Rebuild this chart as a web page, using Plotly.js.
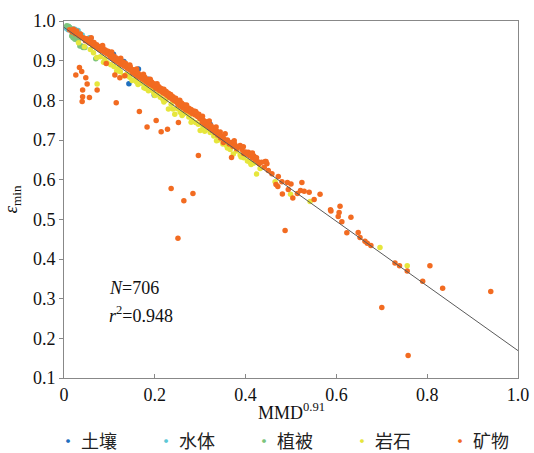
<!DOCTYPE html>
<html>
<head>
<meta charset="utf-8">
<script src="https://cdn.plot.ly/plotly-3.0.1.min.js"></script>
<style>
  html, body { margin: 0; padding: 0; background: #fff; }
  #chart { width: 534px; height: 453px; }
</style>
</head>
<body>
<div id="chart"></div>
<script>
// Material classes shown in the key below the axes
const categories = ['土壤', '水体', '植被', '岩石', '矿物'];
const colors = ['#1f6fbf', '#5cc8d6', '#7cc47c', '#e6e63c', '#f26b21'];

// 土壤 (soil)
const soilX = [0.059, 0.109, 0.132, 0.143, 0.164, 0.186, 0.197, 0.199, 0.233, 0.252, 0.322, 0.421];
const soilY = [0.956, 0.916, 0.898, 0.842, 0.879, 0.853, 0.828, 0.813, 0.807, 0.782, 0.740, 0.656];

// 水体 (water)
const waterX = [0.005, 0.009, 0.012, 0.016, 0.020, 0.024, 0.028, 0.031, 0.035, 0.040, 0.056, 0.072];
const waterY = [0.982, 0.978, 0.984, 0.975, 0.980, 0.979, 0.971, 0.976, 0.968, 0.965, 0.958, 0.933];

// 植被 (vegetation)
const vegX = [0.006, 0.010, 0.013, 0.017, 0.020, 0.024, 0.028, 0.031, 0.035, 0.039, 0.042, 0.043, 0.046, 0.070];
const vegY = [0.988, 0.987, 0.983, 0.962, 0.958, 0.954, 0.957, 0.950, 0.937, 0.937, 0.933, 0.935, 0.933, 0.905];

// 岩石 (rock)
const rockX = [0.032, 0.045, 0.058, 0.065, 0.072, 0.073, 0.080, 0.087, 0.095, 0.103, 0.110, 0.116, 0.124,
  0.131, 0.138, 0.145, 0.150, 0.157, 0.163, 0.170, 0.176, 0.182, 0.186, 0.192, 0.198, 0.205, 0.212,
  0.218, 0.224, 0.230, 0.236, 0.244, 0.250, 0.256, 0.262, 0.268, 0.275, 0.282, 0.290, 0.296, 0.300,
  0.306, 0.314, 0.322, 0.330, 0.336, 0.342, 0.350, 0.358, 0.366, 0.373, 0.380, 0.388, 0.396, 0.404,
  0.412, 0.418, 0.424, 0.432, 0.465, 0.499, 0.542, 0.696, 0.756,
  0.090, 0.120, 0.140, 0.160, 0.180, 0.200, 0.220, 0.240, 0.260, 0.280, 0.310, 0.340, 0.360, 0.390, 0.410];
const rockY = [0.945, 0.935, 0.928, 0.920, 0.908, 0.841, 0.910, 0.896, 0.895, 0.890, 0.885, 0.874, 0.872,
  0.862, 0.866, 0.858, 0.850, 0.852, 0.840, 0.843, 0.832, 0.835, 0.824, 0.826, 0.818, 0.815, 0.808,
  0.802, 0.800, 0.778, 0.790, 0.765, 0.779, 0.770, 0.765, 0.768, 0.758, 0.750, 0.744, 0.740, 0.724,
  0.733, 0.727, 0.719, 0.710, 0.698, 0.705, 0.690, 0.686, 0.676, 0.665, 0.672, 0.662, 0.655, 0.647,
  0.638, 0.642, 0.614, 0.628, 0.595, 0.563, 0.545, 0.429, 0.383,
  0.905, 0.880, 0.862, 0.846, 0.830, 0.812, 0.796, 0.778, 0.762, 0.745, 0.722, 0.700, 0.680, 0.657, 0.643];

// 矿物 (minerals)
const mineralX = [
  0.012, 0.018, 0.021, 0.025, 0.028, 0.033, 0.036, 0.040, 0.044, 0.047, 0.050,
  0.052, 0.055, 0.058, 0.061, 0.064, 0.066, 0.069, 0.072, 0.075, 0.078, 0.080, 0.083, 0.086, 0.089,
  0.091, 0.094, 0.097, 0.099,
  0.102, 0.104, 0.107, 0.110, 0.112, 0.115, 0.118, 0.120, 0.123, 0.125, 0.128, 0.131, 0.133, 0.136,
  0.139, 0.141, 0.144, 0.146, 0.149,
  0.151, 0.153, 0.156, 0.158, 0.161, 0.163, 0.166, 0.168, 0.171, 0.173, 0.176, 0.178, 0.181, 0.183,
  0.186, 0.188, 0.191, 0.193, 0.196, 0.198,
  0.201, 0.204, 0.206, 0.209, 0.211, 0.214, 0.217, 0.219, 0.222, 0.225, 0.227, 0.230, 0.232, 0.235,
  0.238, 0.240, 0.243, 0.246, 0.248,
  0.251, 0.254, 0.256, 0.259, 0.262, 0.264, 0.267, 0.270, 0.272, 0.275, 0.278, 0.280, 0.283, 0.286,
  0.289, 0.291, 0.294, 0.297, 0.299,
  0.302, 0.305, 0.307, 0.310, 0.313, 0.316, 0.318, 0.321, 0.324, 0.327, 0.330, 0.333, 0.336, 0.339,
  0.342, 0.344, 0.345, 0.348, 0.351, 0.369,
  0.352, 0.356, 0.360, 0.364, 0.368, 0.372, 0.376, 0.380, 0.384, 0.388, 0.392, 0.396, 0.400, 0.404,
  0.406, 0.409, 0.412, 0.415, 0.418, 0.421, 0.424, 0.427, 0.430, 0.443, 0.447,
  0.060, 0.085, 0.105, 0.125, 0.145, 0.160, 0.175, 0.190, 0.205, 0.220, 0.235, 0.255, 0.270, 0.290,
  0.305, 0.320, 0.335, 0.355, 0.375, 0.395, 0.415,
  0.435, 0.445, 0.441, 0.450, 0.458, 0.472, 0.467, 0.471, 0.480, 0.492, 0.500, 0.524, 0.494, 0.481,
  0.504, 0.514, 0.521, 0.529, 0.540, 0.564, 0.551, 0.587, 0.608, 0.588, 0.606, 0.604, 0.612, 0.632,
  0.623, 0.648, 0.652, 0.663, 0.668, 0.676, 0.729, 0.739, 0.756, 0.790, 0.806, 0.834, 0.940,
  0.026, 0.034, 0.039, 0.048, 0.051, 0.041, 0.041, 0.040, 0.056, 0.073, 0.115, 0.166, 0.183, 0.203,
  0.214, 0.228, 0.252, 0.093, 0.112, 0.123, 0.134, 0.296, 0.236, 0.264, 0.284, 0.251, 0.487, 0.700,
  0.758];
const mineralY = [
  0.978, 0.972, 0.979, 0.968, 0.975, 0.963, 0.967, 0.958, 0.957, 0.950, 0.955,
  0.952, 0.945, 0.950, 0.942, 0.938, 0.946, 0.935, 0.940, 0.932, 0.928, 0.936, 0.925, 0.931, 0.921,
  0.927, 0.918, 0.924, 0.915,
  0.910, 0.918, 0.905, 0.912, 0.900, 0.907, 0.897, 0.903, 0.893, 0.900, 0.890, 0.896, 0.886, 0.893,
  0.881, 0.887, 0.878, 0.884, 0.874,
  0.870, 0.877, 0.866, 0.873, 0.862, 0.869, 0.858, 0.864, 0.855, 0.861, 0.851, 0.858, 0.847, 0.853,
  0.843, 0.849, 0.839, 0.846, 0.836, 0.842,
  0.832, 0.838, 0.828, 0.834, 0.824, 0.830, 0.820, 0.826, 0.816, 0.822, 0.812, 0.818, 0.808, 0.813,
  0.803, 0.809, 0.799, 0.805, 0.795,
  0.790, 0.797, 0.786, 0.793, 0.781, 0.789, 0.777, 0.784, 0.774, 0.780, 0.770, 0.777, 0.766, 0.773,
  0.763, 0.769, 0.759, 0.765, 0.754,
  0.752, 0.745, 0.750, 0.740, 0.746, 0.735, 0.741, 0.730, 0.736, 0.724, 0.730, 0.718, 0.723, 0.712,
  0.717, 0.720, 0.705, 0.710, 0.694, 0.656,
  0.704, 0.698, 0.700, 0.690, 0.694, 0.684, 0.689, 0.678, 0.683, 0.686, 0.676, 0.666, 0.670, 0.664,
  0.669, 0.660, 0.666, 0.655, 0.660, 0.650, 0.655, 0.645, 0.640, 0.646, 0.640,
  0.958, 0.938, 0.922, 0.906, 0.889, 0.879, 0.866, 0.853, 0.842, 0.828, 0.815, 0.800, 0.788, 0.772,
  0.760, 0.748, 0.733, 0.716, 0.698, 0.683, 0.667,
  0.644, 0.646, 0.631, 0.623, 0.615, 0.608, 0.588, 0.583, 0.595, 0.593, 0.589, 0.593, 0.575, 0.564,
  0.554, 0.565, 0.573, 0.571, 0.568, 0.563, 0.550, 0.524, 0.533, 0.521, 0.517, 0.507, 0.494, 0.505,
  0.466, 0.467, 0.454, 0.445, 0.440, 0.434, 0.390, 0.383, 0.370, 0.344, 0.383, 0.326, 0.318,
  0.864, 0.883, 0.873, 0.857, 0.841, 0.826, 0.809, 0.797, 0.807, 0.826, 0.794, 0.772, 0.733, 0.749,
  0.721, 0.727, 0.744, 0.893, 0.864, 0.857, 0.862, 0.661, 0.578, 0.547, 0.565, 0.452, 0.472, 0.278,
  0.157];

// Fitted regression line
const fitX = [0, 1];
const fitY = [0.984, 0.169];

// Axis ticks
const xTickVals = [0, 0.2, 0.4, 0.6, 0.8, 1.0];
const xTickText = ['0', '0.2', '0.4', '0.6', '0.8', '1.0'];
const yTickVals = [0.1, 0.2, 0.3, 0.4, 0.5, 0.6, 0.7, 0.8, 0.9, 1.0];
const yTickText = ['0.1', '0.2', '0.3', '0.4', '0.5', '0.6', '0.7', '0.8', '0.9', '1.0'];

// Axis titles
const xTitle = 'MMD<sup>0.91</sup>';
const yTitle = '<i>ε</i><sub>min</sub>';

// Sample size and goodness of fit
const statLines = ['<i>N</i>=706', '<i>r</i><sup>2</sup>=0.948'];
const statY = [0.326, 0.261];

const seriesX = [soilX, waterX, vegX, rockX, mineralX];
const seriesY = [soilY, waterY, vegY, rockY, mineralY];

const serif = '"Liberation Serif", "Times New Roman", serif';
const cjk = '"Noto Sans CJK SC", sans-serif';

const traces = categories.map((name, i) => ({
  type: 'scatter',
  mode: 'markers',
  name: name,
  x: seriesX[i],
  y: seriesY[i],
  marker: { color: colors[i], size: 5.5, line: { width: 0 } },
  hoverinfo: 'x+y+name',
  showlegend: false
}));

traces.push({
  type: 'scatter',
  mode: 'lines',
  x: fitX,
  y: fitY,
  line: { color: '#5a5a5a', width: 1 },
  showlegend: false,
  hoverinfo: 'skip'
});

// Plot area in pixels; text below the axes is placed relative to it
const plotL = 64, plotW = 454, plotT = 21, plotH = 357;
const plotB = plotT + plotH;
const toPaperY = py => (plotB - py) / plotH;
const toPaperX = px => (px - plotL) / plotW;

const keyStep = 98;    // px between key entries
const keyLeft = 57;    // px of the first entry's left edge
const keyMid = 440;    // px, vertical centre of the key row
const xTitleMid = 411; // px, vertical centre of the x-axis title

const keyNotes = categories.map((name, i) => ({
  xref: 'paper',
  yref: 'paper',
  x: toPaperX(keyLeft + i * keyStep),
  y: toPaperY(keyMid),
  xanchor: 'left',
  yanchor: 'middle',
  showarrow: false,
  text: '<span style="color:' + colors[i] + '">•</span> ' + name,
  font: { family: cjk, size: 18, color: '#222' }
}));

const statNotes = statLines.map((t, i) => ({
  x: 0.095,
  y: statY[i],
  xref: 'x',
  yref: 'y',
  xanchor: 'left',
  yanchor: 'middle',
  showarrow: false,
  text: t,
  font: { family: serif, size: 18, color: '#111' }
}));

const xTitleNote = {
  xref: 'paper',
  yref: 'paper',
  x: 0.5,
  y: toPaperY(xTitleMid),
  xanchor: 'center',
  yanchor: 'middle',
  showarrow: false,
  text: xTitle,
  font: { family: serif, size: 18, color: '#111' }
};

const layout = {
  width: 534,
  height: 453,
  margin: { l: plotL, r: 534 - plotL - plotW, t: plotT, b: 453 - plotB },
  paper_bgcolor: '#ffffff',
  plot_bgcolor: '#ffffff',
  font: { family: serif, size: 18, color: '#111' },
  showlegend: false,
  xaxis: {
    range: [0, 1],
    tickvals: xTickVals,
    ticktext: xTickText,
    ticks: 'inside',
    ticklen: 4,
    tickcolor: '#888',
    showline: true,
    mirror: true,
    linecolor: '#888',
    linewidth: 1,
    showgrid: false,
    zeroline: false,
    tickfont: { family: serif, size: 18, color: '#111' }
  },
  yaxis: {
    range: [0.1, 1.0],
    tickvals: yTickVals,
    ticktext: yTickText,
    ticks: 'outside',
    ticklen: 4,
    tickcolor: '#888',
    showline: true,
    mirror: true,
    linecolor: '#888',
    linewidth: 1,
    showgrid: false,
    zeroline: false,
    tickfont: { family: serif, size: 18, color: '#111' },
    title: { text: yTitle, font: { family: serif, size: 19, color: '#111' } }
  },
  annotations: statNotes.concat(keyNotes, [xTitleNote])
};

Plotly.newPlot('chart', traces, layout, { displayModeBar: false, staticPlot: true });
</script>
</body>
</html>
